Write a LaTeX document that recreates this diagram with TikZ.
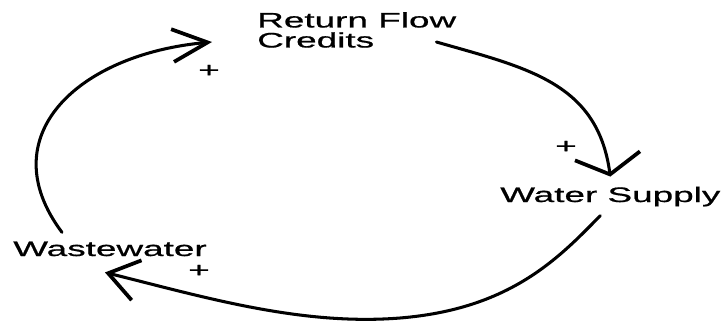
\documentclass[tikz,border=0pt]{standalone}
\usepackage{fontspec}
\setmainfont[FakeStretch=1.76,FakeBold=0.8]{Liberation Sans}
\usetikzlibrary{arrows.meta,calc}

\begin{document}
\begin{tikzpicture}[x=.03cm,y=-.03cm,font=\fontsize{17.9pt}{17.1pt}\selectfont,
 lbl/.style={inner sep=0pt},
 link/.style={line width=2.6pt,line cap=round}]
\useasboundingbox (0,0) rectangle (728,322);
\node[lbl,anchor=north west,align=left] (ret) at (257,12) {Return Flow\\Credits};
\node[lbl,anchor=base west] (sup) at (500,202) {Water Supply};
\node[lbl,anchor=base west] (waste) at (13,256) {Wastewater};
\node[lbl] (plusA) at (566,147) {+};
\node[lbl] (plusB) at (199,271) {+};
\node[lbl] (plusC) at (209,71) {+};
\draw[link,-{Straight Barb[length=16pt,width=56pt,line width=3.2pt]}] ($(ret.north east)+(-20,30)$) .. controls +(91,26) and +(-13,-94) .. ($(sup.north)+(0,-10)$);
\draw[link,-{Straight Barb[length=25pt,width=35pt,line width=3.2pt]}] ($(sup.south)+(-10,9)$) .. controls +(-42,43) and +(110,-9) .. (400,318) .. controls +(-100,8) and +(97,24) .. ($(waste.south)+(-5,16)$);
\draw[link,-{Straight Barb[length=30pt,width=28pt,line width=3.2pt]}] ($(waste.north west)+(49,-9)$) .. controls +(-72,-96) and +(-134,12) .. ($(ret.north west)+(-45,30)$);
\end{tikzpicture}
\end{document}
